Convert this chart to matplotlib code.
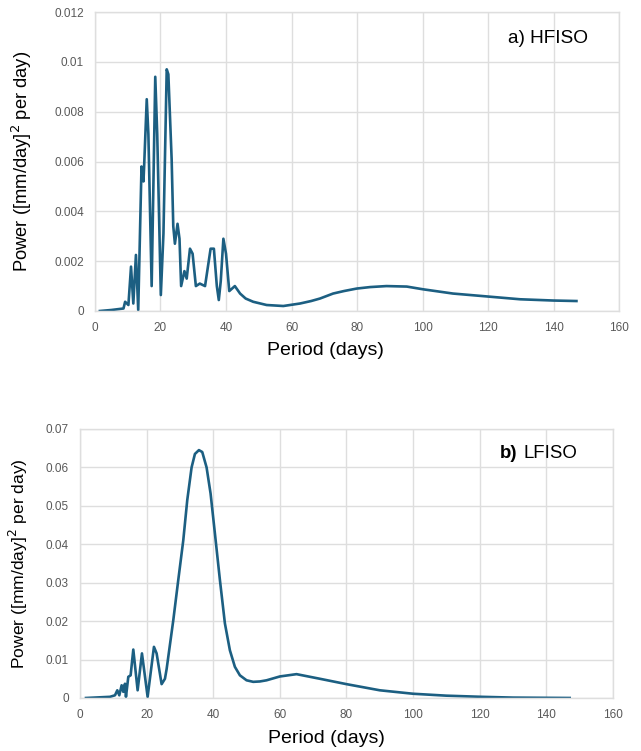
import matplotlib
matplotlib.use("Agg")
import matplotlib.pyplot as plt

plt.rcParams['font.family'] = ['Liberation Sans', 'DejaVu Sans']

# Panel a) HFISO
hf_period = [1.5, 5, 8.7, 9.2, 10.2, 11.0, 11.7, 12.5, 13.2, 14.2, 14.8, 15.0, 15.8, 16.3, 17.3,
             18.4, 19.0, 20.1, 20.9, 21.9, 22.4, 23.4, 23.9, 24.4, 25.2, 25.8, 26.3, 27.3, 28.0,
             29.0, 29.8, 30.8, 32.0, 33.6, 35.3, 36.3, 37.2, 37.8, 38.4, 39.2, 40.0, 41.0, 42.7,
             44.3, 46, 48.3, 52.4, 57.5, 62.6, 66, 68.7, 72.7, 76, 79.9, 84, 89.0, 95.2, 100.2,
             109.3, 120.0, 129.8, 139.9, 147.0]
hf_power = [0.0, 0.00004, 0.0001, 0.00037, 0.00024, 0.00178, 0.0003, 0.00225, 0.00004, 0.0058,
            0.0052, 0.0058, 0.0085, 0.0071, 0.001, 0.0094, 0.0071, 0.00064, 0.0031, 0.0097, 0.0095,
            0.0061, 0.0034, 0.0027, 0.0035, 0.0029, 0.001, 0.0016, 0.0013, 0.0025, 0.0023, 0.001,
            0.0011, 0.001, 0.0025, 0.0025, 0.001, 0.00044, 0.0012, 0.0029, 0.0023, 0.0008, 0.001,
            0.0007, 0.0005, 0.00037, 0.00024, 0.0002, 0.0003, 0.0004, 0.0005, 0.0007, 0.0008,
            0.0009, 0.00096, 0.001, 0.00098, 0.00087, 0.0007, 0.00058, 0.00047, 0.00042, 0.0004]

# Panel b) LFISO
lf_period = [1.8, 9.0, 10.5, 11.2, 11.8, 12.5, 13.0, 13.5, 13.8, 14.5, 15.2, 16.0, 17.3, 18.6,
             20.3, 22.2, 23.0, 24.5, 25.5, 26.0, 28.0, 29.5, 31.0, 32.2, 33.5, 34.5, 35.7, 36.7,
             38.0, 39.2, 40.5, 42.0, 43.5, 45.0, 46.5, 48.0, 50.0, 52.0, 54.0, 56.0, 60.0, 65.0,
             72.0, 80.0, 90.0, 100.0, 110.0, 120.6, 130.0, 147.0]
lf_power = [0.0, 0.0003, 0.0007, 0.002, 0.0007, 0.0033, 0.0016, 0.0037, 0.0003, 0.0055, 0.0059,
            0.0126, 0.002, 0.0116, 0.0003, 0.0133, 0.0116, 0.0036, 0.005, 0.0075, 0.0202, 0.0307,
            0.041, 0.0515, 0.060, 0.0635, 0.0645, 0.064, 0.060, 0.0532, 0.0428, 0.0307, 0.0194,
            0.0124, 0.0081, 0.0059, 0.0046, 0.0042, 0.0043, 0.0046, 0.0056, 0.0062, 0.005, 0.0036,
            0.002, 0.0011, 0.0006, 0.0003, 0.0001, 0.0]

x_ticks = [0, 20, 40, 60, 80, 100, 120, 140, 160]
hf_yticks = [0, 0.002, 0.004, 0.006, 0.008, 0.01, 0.012]
hf_ylabels = ['0', '0.002', '0.004', '0.006', '0.008', '0.01', '0.012']
lf_yticks = [0, 0.01, 0.02, 0.03, 0.04, 0.05, 0.06, 0.07]
lf_ylabels = ['0', '0.01', '0.02', '0.03', '0.04', '0.05', '0.06', '0.07']

LINE = '#1c5f82'
GRID = '#dedede'
TICK = '#595959'

fig = plt.figure(figsize=(6.41, 7.51), dpi=100)
ax1 = fig.add_axes([0.1482, 0.5859, 0.8175, 0.3981])
ax2 = fig.add_axes([0.1248, 0.0706, 0.8315, 0.3582])


def style(ax, yticks, ylabels):
    ax.set_xlim(0, 160)
    ax.set_xticks(x_ticks)
    ax.set_xticklabels([str(t) for t in x_ticks])
    ax.set_yticks(yticks)
    ax.set_yticklabels(ylabels)
    ax.set_ylim(yticks[0], yticks[-1])
    ax.grid(True, color=GRID, linewidth=1.0)
    ax.set_axisbelow(True)
    for s in ax.spines.values():
        s.set_color(GRID)
        s.set_linewidth(1.0)
    ax.tick_params(length=0, labelsize=8.5, labelcolor=TICK, pad=8)


ax1.plot(hf_period, hf_power, color=LINE, linewidth=1.9, solid_joinstyle='round')
style(ax1, hf_yticks, hf_ylabels)
ax1.set_xlabel('Period (days)', fontsize=14)
ax1.xaxis.set_label_coords(0.439, -0.104)
ax1.set_ylabel('Power ([mm/day]$^2$ per day)', fontsize=13.2)
ax1.yaxis.set_label_coords(-0.116, 0.5)
ax1.text(126, 0.01095, 'a) HFISO', fontsize=13.7, va='center', ha='left')

ax2.plot(lf_period, lf_power, color=LINE, linewidth=1.9, solid_joinstyle='round')
style(ax2, lf_yticks, lf_ylabels)
ax2.set_xlabel('Period (days)', fontsize=14)
ax2.xaxis.set_label_coords(0.4615, -0.119)
ax2.set_ylabel('Power ([mm/day]$^2$ per day)', fontsize=12.6)
ax2.yaxis.set_label_coords(-0.094, 0.5)
ax2.text(126, 0.0636, 'b)', fontsize=13.4, va='center', ha='left', fontweight='bold')
ax2.text(133.2, 0.0636, 'LFISO', fontsize=13.4, va='center', ha='left')

fig.savefig('out.png', dpi=100)
